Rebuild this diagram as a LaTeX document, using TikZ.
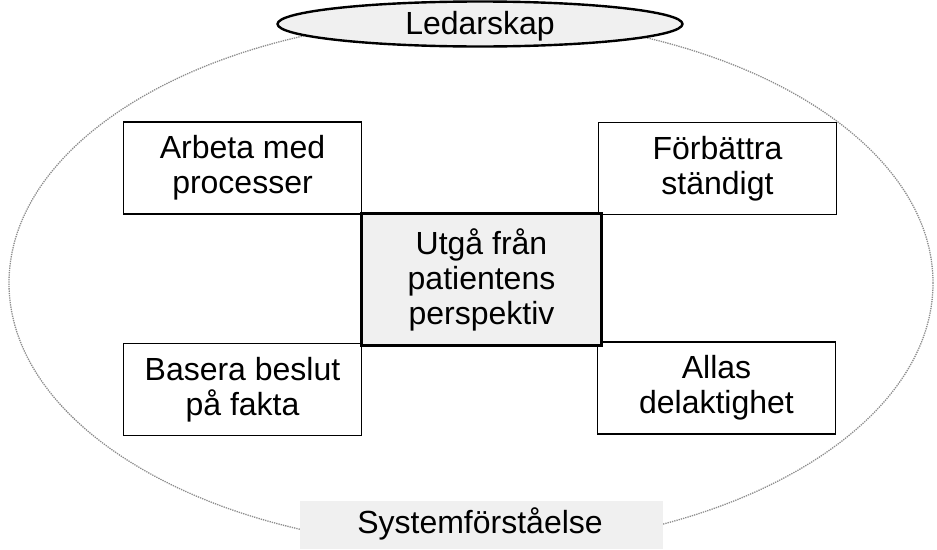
\documentclass[tikz,border=0pt]{standalone}
\usepackage{fontspec}
\setmainfont{Liberation Sans}
\usetikzlibrary{shapes.geometric}
\tikzset{
  txt/.style={font=\fontsize{32}{35}\selectfont, align=center},
  corner/.style={txt, draw=black, line width=1.5pt, rectangle, inner sep=0pt, minimum width=238pt, minimum height=92pt},
  core/.style={txt, draw=black, line width=3pt, fill=black!6, rectangle, inner sep=0pt, minimum width=240pt, minimum height=132pt},
  outerell/.style={ellipse, draw=black!45, densely dotted, line width=1.3pt, inner sep=0pt},
  leadell/.style={ellipse, draw=black, fill=black!6, line width=2.4pt, inner sep=0pt},
}
\begin{document}
\begin{tikzpicture}[x=1pt,y=-1pt]
\useasboundingbox (0,0) rectangle (937,549);
\node[outerell, minimum width=924pt, minimum height=530pt] (outer) at (471,283) {};
\node[corner] (tl) at (242.5,168) {Arbeta med\\processer};
\node[corner] (tr) at (717.5,168.5) {Förbättra\\ständigt};
\node[corner] (bl) at (242.5,389.5) {Basera beslut\\på fakta};
\node[corner] (br) at (716.5,388) {Allas\\delaktighet};
\node[core] (c) at (481.5,279.5) {Utgå från\\patientens\\perspektiv};
\node[leadell, minimum width=405pt, minimum height=45pt] (lead) at (480,24) {};
\node[txt, inner sep=0pt] (leadtxt) at (480,26) {Ledarskap};
\node[fill=black!6, inner sep=0pt, minimum width=363pt, minimum height=48pt] (patch) at (481.5,525) {};
\node[txt] (sys) at (480,524) {Systemförståelse};
\end{tikzpicture}
\end{document}
